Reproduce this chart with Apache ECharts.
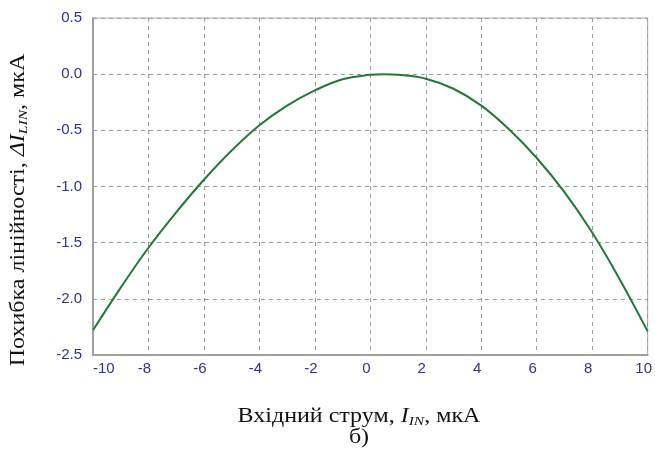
<!DOCTYPE html>
<html>
<head>
<meta charset="utf-8">
<script src="https://cdn.jsdelivr.net/npm/echarts@6/dist/echarts.min.js"></script>
<style>
  html, body { margin: 0; padding: 0; background: #fff; }
  #chart { width: 655px; height: 463px; }
</style>
</head>
<body>
<div id="chart"></div>
<script>
// вхідний струм, мкА
const inputCurrent = [-10, -9, -8, -7, -6, -5, -4, -3, -2, -1, 0, 0.5, 1, 2, 3, 4, 5, 6, 7, 8, 9, 10];
// похибка лінійності, мкА
const linError = [-2.28, -1.9, -1.545, -1.23, -0.94, -0.68, -0.455, -0.28, -0.145, -0.045, -0.006, 0.0, -0.006, -0.04, -0.13, -0.28, -0.49, -0.746, -1.05, -1.41, -1.83, -2.29];

const xTicks = { min: -10, max: 10, step: 2 };
const yTicks = { min: -2.5, max: 0.5, step: 0.5 };

const labelColor = '#2e3192';
const lineColor = '#1f7a35';
const serif = '"Liberation Serif", "DejaVu Serif", serif';

const chart = echarts.init(document.getElementById('chart'));

const titleRich = {
  n: { fontFamily: serif, fontSize: 20, fill: '#111', lineHeight: 22 },
  i: { fontFamily: serif, fontSize: 20, fontStyle: 'italic', fill: '#111', lineHeight: 22 },
  s: { fontFamily: serif, fontSize: 13, fontStyle: 'italic', fill: '#111', lineHeight: 13, verticalAlign: 'bottom' }
};

const option = {
  animation: false,
  backgroundColor: '#fff',
  grid: { left: 93, right: 2, top: 18, bottom: 108, show: true, borderColor: '#a8a8a8', borderWidth: 1 },
  xAxis: {
    type: 'value',
    min: xTicks.min,
    max: xTicks.max,
    interval: xTicks.step,
    axisLine: { show: true, onZero: false, lineStyle: { color: '#a0a0a0', width: 2 } },
    axisTick: { show: false },
    axisLabel: {
      color: labelColor,
      fontFamily: '"Liberation Sans", Arial, sans-serif',
      fontSize: 15,
      margin: 6,
      padding: [0, 8, 0, 0],
      alignMinLabel: 'left'
    },
    splitLine: { show: true, lineStyle: { color: '#9a9a9a', type: [4, 4], width: 1 } }
  },
  yAxis: {
    type: 'value',
    min: yTicks.min,
    max: yTicks.max,
    interval: yTicks.step,
    axisLine: { show: true, onZero: false, lineStyle: { color: '#a0a0a0', width: 2 } },
    axisTick: { show: false },
    axisLabel: {
      color: labelColor,
      fontFamily: '"Liberation Sans", Arial, sans-serif',
      fontSize: 15,
      margin: 11,
      formatter: (v) => v.toFixed(1)
    },
    splitLine: { show: true, lineStyle: { color: '#9a9a9a', type: [4, 4], width: 1 } }
  },
  series: [
    {
      type: 'line',
      data: inputCurrent.map((x, i) => [x, linError[i]]),
      smooth: 0.4,
      showSymbol: false,
      lineStyle: { color: lineColor, width: 2 },
      itemStyle: { color: lineColor }
    }
  ],
  graphic: [
    {
      type: 'text',
      x: 19,
      y: 210,
      rotation: Math.PI / 2,
      scaleX: 1.2,
      style: {
        text: '{n|Похибка лінійності, }{i|ΔI}{s|LIN}{n|, мкА}',
        align: 'center',
        verticalAlign: 'middle',
        rich: titleRich
      }
    },
    {
      type: 'text',
      x: 359,
      y: 417,
      scaleX: 1.2,
      style: {
        text: '{n|Вхідний струм, }{i|I}{s|IN}{n|, мкА}',
        align: 'center',
        verticalAlign: 'middle',
        rich: titleRich
      }
    },
    {
      type: 'text',
      x: 359,
      y: 438,
      scaleX: 1.2,
      style: {
        text: 'б)',
        align: 'center',
        verticalAlign: 'middle',
        font: '20px ' + serif,
        fill: '#111'
      }
    }
  ]
};

chart.setOption(option);
</script>
</body>
</html>
